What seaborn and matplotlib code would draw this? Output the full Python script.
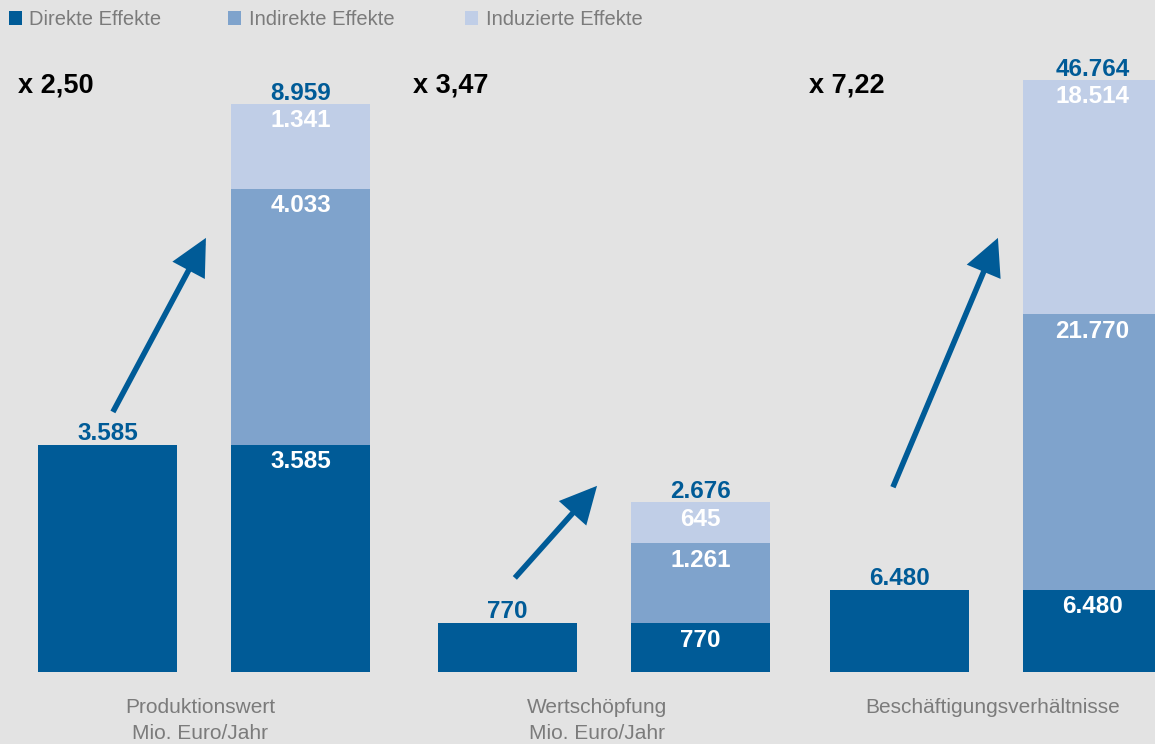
import matplotlib
matplotlib.use("Agg")
import matplotlib.pyplot as plt
import pandas as pd
import seaborn as sns
from matplotlib import font_manager
from matplotlib.patches import Rectangle

# --- data -------------------------------------------------------------
gruppen = ["Produktionswert\nMio. Euro/Jahr",
           "Wertschöpfung\nMio. Euro/Jahr",
           "Beschäftigungsverhältnisse"]
direkt = [3585, 770, 6480]
indirekt = [4033, 1261, 21770]
induziert = [1341, 645, 18514]
multiplikator = ["x 2,50", "x 3,47", "x 7,22"]
effekt_namen = ["Direkte Effekte", "Indirekte Effekte", "Induzierte Effekte"]
balken = ["Direkt", "Gesamt"]

# --- style ------------------------------------------------------------
BG = "#e3e3e3"
C_DIR = "#005b97"
C_IND = "#7fa3cc"
C_INZ = "#c0cee7"
GREY = "#7b7b7b"

sns.set_theme(style="white")
available = {f.name for f in font_manager.fontManager.ttflist}
BASE = "Liberation Sans" if "Liberation Sans" in available else "DejaVu Sans"
plt.rcParams["font.family"] = [BASE, "DejaVu Sans"]

W, H = 1155, 744
fig = plt.figure(figsize=(W / 100, H / 100), dpi=100, facecolor=BG)

unit_px = 193           # distance between the two bars of a group
first_center = [107.5, 507.5, 899.5]
bottom_px = 72
height_px = 672
ymax = [10600, 10600, 53085]

arrows = [((0.264, 0.387), (0.505, 0.646)),
          ((0.269, 0.140), (0.482, 0.277)),
          ((0.233, 0.275), (0.505, 0.646))]
mult_x = [0.018, 0.005, 0.016]
label_x = [0.490, 0.482, 0.492]


def fmt(v):
    return f"{v:,}".replace(",", ".")


num_font = dict(fontsize=17.5, fontweight="bold")

for i in range(3):
    left_px = first_center[i] - 0.5 * unit_px
    ax = fig.add_axes([left_px / W, bottom_px / H, 2 * unit_px / W, height_px / H])
    ax.set_facecolor("none")

    d, ind, inz = direkt[i], indirekt[i], induziert[i]
    total = d + ind + inz
    layers = [
        (pd.DataFrame({"balken": ["Gesamt"], "wert": [total]}), C_INZ),
        (pd.DataFrame({"balken": ["Gesamt"], "wert": [d + ind]}), C_IND),
        (pd.DataFrame({"balken": balken, "wert": [d, d]}), C_DIR),
    ]
    for df, col in layers:
        sns.barplot(data=df, x="balken", y="wert", order=balken, color=col,
                    saturation=1, width=0.72, errorbar=None, linewidth=0, ax=ax)

    ax.set_xlim(-0.5, 1.5)
    ax.set_ylim(0, ymax[i])
    ax.set_ylabel("")
    ax.set_yticks([])
    ax.tick_params(axis="x", length=0, labelbottom=False)
    for s in ax.spines.values():
        s.set_visible(False)
    ax.set_xlabel(gruppen[i], color=GREY, fontsize=15, linespacing=1.45)
    ax.xaxis.set_label_coords(label_x[i], -0.039)

    # value above the direct-effect bar and above the stacked total
    ax.annotate(fmt(d), xy=(0, d), xytext=(0, 3.6), textcoords="offset points",
                ha="center", va="baseline", color=C_DIR, **num_font)
    ax.annotate(fmt(total), xy=(1, total), xytext=(0, 3.0), textcoords="offset points",
                ha="center", va="baseline", color=C_DIR, **num_font)

    # segment values inside the stacked bar
    for base, val in [(0, d), (d, ind), (d + ind, inz)]:
        ax.annotate(fmt(val), xy=(1, base + val), xytext=(0, -16.8),
                    textcoords="offset points", ha="center", va="baseline",
                    color="white", **num_font)

    # multiplier and growth arrow
    ax.text(mult_x[i], 0.863, multiplikator[i], transform=ax.transAxes,
            ha="left", va="baseline", fontsize=19.5, fontweight="bold", color="black")
    tail, tip = arrows[i]
    ax.annotate("", xy=tip, xytext=tail, xycoords="axes fraction",
                textcoords="axes fraction",
                arrowprops=dict(arrowstyle="-|>,head_length=1.0,head_width=0.5",
                                mutation_scale=20, lw=4, color=C_DIR,
                                joinstyle="miter", capstyle="butt",
                                shrinkA=0, shrinkB=0))

# --- legend along the top edge ---------------------------------------
legend_items = [(9, 29, C_DIR), (228, 249, C_IND), (465, 486, C_INZ)]
for (sq_x, tx_x, col), name in zip(legend_items, effekt_namen):
    fig.add_artist(Rectangle((sq_x / W, (H - 25) / H), 13 / W, 14 / H,
                             transform=fig.transFigure, color=col, lw=0))
    fig.text(tx_x / W, (H - 25) / H, name, ha="left", va="baseline",
             fontsize=14.5, color=GREY)

fig.savefig("out.png", dpi=100, facecolor=BG)
